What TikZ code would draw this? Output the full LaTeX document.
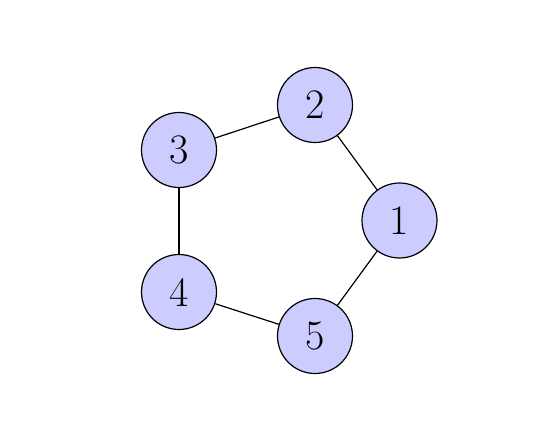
\documentclass[tikz,border=0pt]{standalone}
\begin{document}
\begin{tikzpicture}[x=1pt,y=-1pt,
  vtx/.style={circle,draw=black,fill=blue!20,line width=1.2pt,minimum size=75pt,inner sep=0pt,font=\fontsize{42}{48}\selectfont},
  edge/.style={line width=1.2pt}]
\useasboundingbox (0,0) rectangle (540,447);
\node[vtx] (n1) at (399.5,220.5) {1};
\node[vtx] (n2) at (315,105) {2};
\node[vtx] (n3) at (179,150) {3};
\node[vtx] (n4) at (179,292) {4};
\node[vtx] (n5) at (315,336) {5};
\draw[edge] (n1) -- (n2);
\draw[edge] (n2) -- (n3);
\draw[edge] (n3) -- (n4);
\draw[edge] (n4) -- (n5);
\draw[edge] (n5) -- (n1);
\end{tikzpicture}
\end{document}
